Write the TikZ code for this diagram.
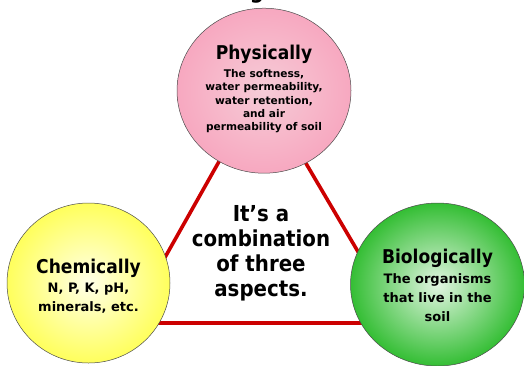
\documentclass[tikz,border=0pt]{standalone}
\usepackage{fontspec}
\setmainfont{DejaVu Sans}
\newfontfamily\condsans{DejaVu Sans}[FakeStretch=0.9]
\usepackage{xcolor}
\usepackage{tikz}
\usetikzlibrary{
    shapes.geometric,
    positioning
}
\definecolor{edgered}{RGB}{204,0,0}
\definecolor{pinkout}{RGB}{247,168,192}
\definecolor{pinkin}{RGB}{246,204,215}
\definecolor{yellowout}{RGB}{255,255,92}
\definecolor{yellowin}{RGB}{255,255,232}
\definecolor{greenout}{RGB}{52,190,52}
\definecolor{greenin}{RGB}{226,245,226}
\newcommand{\headfont}{\condsans\bfseries\fontsize{19}{19}\selectfont}

\begin{document}
\begin{tikzpicture}[
      x=1pt, y=-1pt,
      aspect/.style={ellipse, draw=black!70, line width=0.5pt, inner sep=0pt, shading=radial},
      smalltext/.style={align=center, inner sep=0pt, font=\bfseries\fontsize{10.6}{13.4}\selectfont},
      bigtext/.style={align=center, inner sep=0pt, font=\bfseries\fontsize{13}{19.2}\selectfont},
      link/.style={draw=edgered, line width=3.6pt}
    ]
    \useasboundingbox (0,0) rectangle (524,365);
    \begin{scope}
      \clip (0,0) rectangle (524,365);
      \node[anchor=base, inner sep=0pt, font=\condsans\bfseries\fontsize{22}{22}\selectfont] (title) at (257,-2) {g};
    \end{scope}

    \coordinate (top) at (261,87);
    \coordinate (left) at (128,323);
    \coordinate (right) at (400,323);
    \draw[link] (top) -- (left) -- (right) -- cycle;

    \node[aspect, minimum width=174pt, minimum height=165pt, inner color=pinkin, outer color=pinkout] (phys) at (264,90.7) {};
    \node[aspect, minimum width=163pt, minimum height=160pt, inner color=yellowin, outer color=yellowout] (chem) at (88.5,283) {};
    \node[aspect, minimum width=174pt, minimum height=163pt, inner color=greenin, outer color=greenout] (bio) at (437.5,284.5) {};

    \node[smalltext] (physlbl) at ([yshift=1.8pt]phys.center) {{\headfont Physically}\\[4.9pt]The softness,\\water permeability,\\water retention,\\and air\\permeability of soil};
    \node[bigtext] (chemlbl) at ([yshift=-3pt]chem.center) {{\headfont Chemically}\\N, P, K, pH,\\minerals, etc.};
    \node[bigtext] (biolbl) at ([yshift=-0.7pt]bio.center) {{\headfont Biologically}\\[0.8pt]The organisms\\that live in the\\soil};

    \node[align=center, inner sep=0pt, font=\condsans\bfseries\fontsize{22}{25}\selectfont] (mid) at (261,253.5) {It’s a\\combination\\of three\\aspects.};
  \end{tikzpicture}
\end{document}
